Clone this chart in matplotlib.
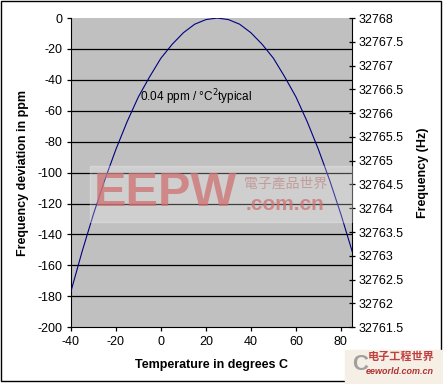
import matplotlib
matplotlib.use("Agg")
import matplotlib.pyplot as plt
from matplotlib.patches import Rectangle

plt.rcParams['font.family'] = ['Liberation Sans', 'DejaVu Sans']
plt.rcParams['axes.unicode_minus'] = False

# temperature (deg C) and frequency deviation (ppm)
temp_c = [-40, -35, -30, -25, -20, -15, -10, -5, 0, 5, 10, 15, 20,
          25, 30, 35, 40, 45, 50, 55, 60, 65, 70, 75, 80, 85]
dev_ppm = [-177, -151, -127, -105, -85, -67, -51, -38, -26, -17, -9.5, -4, -1,
           0, -1, -4, -9.5, -17, -26, -38, -51, -67, -85, -105, -127, -151]

x_ticks = [-40, -20, 0, 20, 40, 60, 80]
y_ticks = [0, -20, -40, -60, -80, -100, -120, -140, -160, -180, -200]
hz_ticks = [32768, 32767.5, 32767, 32766.5, 32766, 32765.5, 32765,
            32764.5, 32764, 32763.5, 32763, 32762.5, 32762, 32761.5]

fig = plt.figure(figsize=(4.43, 3.84), dpi=100)
ax = fig.add_axes([0.160, 0.148, 0.635, 0.805])
ax.set_facecolor('#c0c0c0')

for v in y_ticks[1:-1]:
    ax.axhline(v, color='black', lw=0.9, zorder=1)

ax.plot(temp_c, dev_ppm, color='#000080', lw=0.8, zorder=3)

ax.set_xlim(-40, 85)
ax.set_ylim(-200, 0)
ax.set_xticks(x_ticks)
ax.set_yticks(y_ticks)
ax.tick_params(labelsize=9, length=3, width=0.9, pad=3, color='black')
ax.spines['top'].set_visible(False)
ax.spines['right'].set_visible(False)
ax.set_xlabel('Temperature in degrees C', fontsize=9, fontweight='bold', labelpad=8)
ax.set_ylabel('Frequency deviation in ppm', fontsize=9, fontweight='bold', labelpad=6)

ax2 = ax.twinx()
ax2.set_ylim(32761.5, 32768)
ax2.set_yticks(hz_ticks)
ax2.set_yticklabels([('%g' % h) for h in hz_ticks])
ax2.tick_params(labelsize=9, length=5, width=0.9, pad=2, direction='inout')
for s in ['top', 'left', 'bottom']:
    ax2.spines[s].set_visible(False)
ax2.set_ylabel('Frequency (Hz)', fontsize=9, fontweight='bold', labelpad=10)

ax.text(-9.5, -51, '0.04 ppm / \u00b0C$^2$typical', fontsize=8.5, va='center', zorder=4)

# watermark
fig.patches.append(Rectangle((90 / 443, 1 - 222 / 384), 262 / 443, 56 / 384,
                             transform=fig.transFigure, color='white', alpha=0.25, zorder=5))
fig.text(94 / 443, 1 - 194 / 384, 'EEPW', fontsize=35, fontweight='bold', color='#d07070',
         alpha=0.75, va='center', ha='left', zorder=6)
fig.text(244 / 443, 1 - 184 / 384, '電子產品世界', fontsize=10, color='#c09090', alpha=0.8,
         family=['Noto Sans CJK TC', 'DejaVu Sans'], va='center', ha='left', zorder=6)
fig.text(246 / 443, 1 - 205 / 384, '.com.cn', fontsize=15, fontweight='bold', color='#d07070',
         alpha=0.75, va='center', ha='left', zorder=6)

# bottom-right logo
fig.patches.append(Rectangle((345 / 443, 0), 98 / 443, 34 / 384, transform=fig.transFigure,
                             color='#f5efe6', zorder=5))
fig.text(368 / 443, 1 - 356 / 384, '电子工程世界', fontsize=8, fontweight='bold', color='#c04040',
         family=['Noto Sans CJK SC', 'DejaVu Sans'], va='center', ha='left', zorder=6)
fig.text(366 / 443, 1 - 371 / 384, 'eeworld.com.cn', fontsize=6.5, style='italic', fontweight='bold',
         color='#b03030', va='center', ha='left', zorder=6)
fig.text(352 / 443, 1 - 364 / 384, 'C', fontsize=16, fontweight='bold', color='#a0a0a0',
         va='center', ha='left', zorder=6)

# outer frame
fig.patches.append(Rectangle((1 / 443, 3 / 384), 440 / 443, 380 / 384, transform=fig.transFigure,
                             fill=False, edgecolor='black', lw=1, zorder=4))

fig.savefig('out.png', dpi=100)
